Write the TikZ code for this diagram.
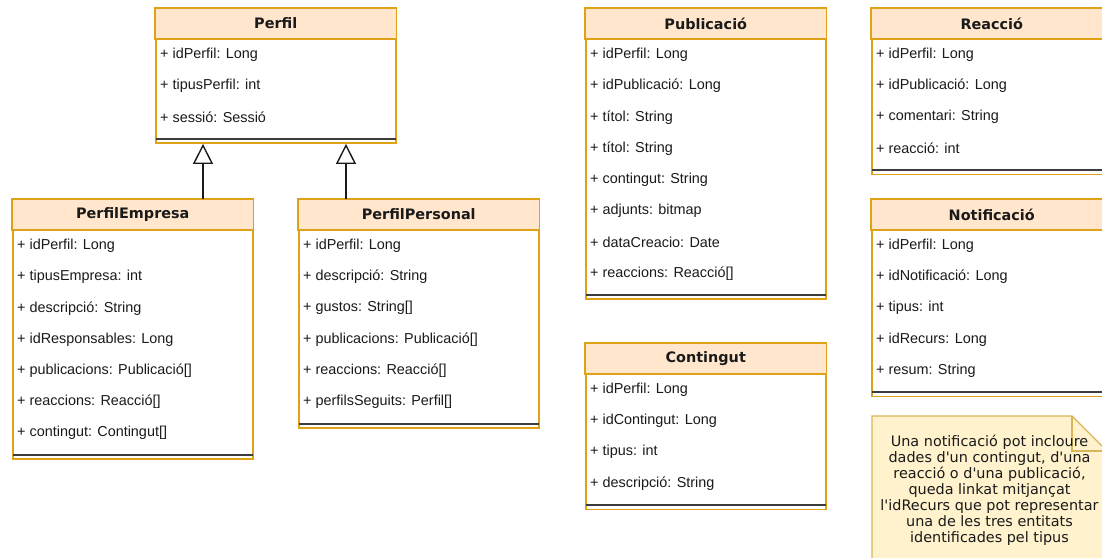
\documentclass[tikz,border=0pt]{standalone}
\usepackage{fontspec}
\setmainfont{Liberation Sans}
\newfontfamily\headfont{DejaVu Sans}
\newfontfamily\notefont{DejaVu Sans}
\usetikzlibrary{arrows.meta,calc}

\definecolor{clsfill}{HTML}{FFE6CC}
\definecolor{clsline}{HTML}{DFA216}
\definecolor{notefill}{HTML}{FFF2CC}
\definecolor{noteline}{HTML}{D6B656}
\definecolor{inkdark}{HTML}{1A1A1A}

\tikzset{
  classbox/.style={rectangle, draw=clsline, fill=white, line width=1.5pt,
    anchor=north west, inner sep=0pt, minimum width=240pt},
  classhead/.style={draw=clsline, fill=clsfill, line width=1.5pt},
  classtitle/.style={inner sep=0pt, text=inkdark,
    font=\headfont\bfseries\fontsize{14.4}{17}\selectfont},
  attr/.style={anchor=west, inner sep=0pt, text=inkdark,
    font=\fontsize{14.4}{17}\selectfont},
  sepline/.style={draw=inkdark!85, line width=2pt},
  inherit/.style={draw=inkdark, line width=1.4pt,
    -{Triangle[length=20pt,width=20pt,fill=white]}},
  notebox/.style={draw=noteline, fill=notefill, line width=1.3pt},
  notetext/.style={align=center, inner sep=0pt, text=inkdark,
    font=\notefont\fontsize{14.4}{16}\selectfont},
}

% class box: #1 name, #2 left x, #3 top y, #4 title, #5 attribute count, #6 attributes
\newcommand\umlclass[6]{%
  \pgfmathsetmacro\boxh{31.2*(#5+1)+9.6}
  \node[classbox, minimum height=\boxh pt] (#1) at (#2,-#3) {};
  \draw[classhead] (#1.north west) rectangle ($(#1.north east)+(0,-31.2)$);
  \node[classtitle] (#1-title) at ($(#1.north)+(0,-15.6)$) {#4};
  \foreach \attrtext [count=\k] in {#6} {
    \node[attr] (#1-\k) at ($(#1.north west)+(5,-15.6-31.2*\k)$) {\attrtext};
  }
  \draw[sepline] ($(#1.south west)+(0.75,5)$) -- ($(#1.south east)+(-0.75,5)$);
}

\begin{document}
\begin{tikzpicture}[x=1pt,y=1pt]
\useasboundingbox (0,0) rectangle (1102,-557);
\clip (0,0) rectangle (1102,-557);

\umlclass{pf}{155}{8}{Perfil}{3}{+ idPerfil: Long, + tipusPerfil: int, + sessió: Sessió}
\umlclass{pe}{12}{199}{PerfilEmpresa}{7}{+ idPerfil: Long, + tipusEmpresa: int, + descripció: String, + idResponsables: Long, + publicacions: Publicació[], + reaccions: Reacció[], + contingut: Contingut[]}
\umlclass{pp}{298}{199}{PerfilPersonal}{6}{+ idPerfil: Long, + descripció: String, + gustos: String[], + publicacions: Publicació[], + reaccions: Reacció[], + perfilsSeguits: Perfil[]}
\umlclass{pub}{585}{8}{Publicació}{8}{+ idPerfil: Long, + idPublicació: Long, + títol: String, + títol: String, + contingut: String, + adjunts: bitmap, + dataCreacio: Date, + reaccions: Reacció[]}
\umlclass{cont}{585}{343}{Contingut}{4}{+ idPerfil: Long, + idContingut: Long, + tipus: int, + descripció: String}
\umlclass{reac}{871}{8}{Reacció}{4}{+ idPerfil: Long, + idPublicació: Long, + comentari: String, + reacció: int}
\umlclass{notif}{871}{199}{Notificació}{5}{+ idPerfil: Long, + idNotificació: Long, + tipus: int, + idRecurs: Long, + resum: String}

% generalisation arrows
\coordinate (g1) at (203,0);
\coordinate (g2) at (346,0);
\draw[inherit] (pe.north -| g1) -- (pf.south -| g1);
\draw[inherit] (pp.north -| g2) -- (pf.south -| g2);

% note with folded corner
\draw[notebox] (872,-416) -- (1072,-416) -- (1107,-451) -- (1107,-570)
  -- (872,-570) -- cycle;
\draw[notebox, fill=none] (1072,-416) -- (1072,-451) -- (1107,-451);
\node[notetext] (notetxt) at (989.5,-490) {Una notificació pot incloure\\
dades d'un contingut, d'una\\
reacció o d'una publicació,\\
queda linkat mitjançat\\
l'idRecurs que pot representar\\
una de les tres entitats\\
identificades pel tipus};
\end{tikzpicture}
\end{document}
